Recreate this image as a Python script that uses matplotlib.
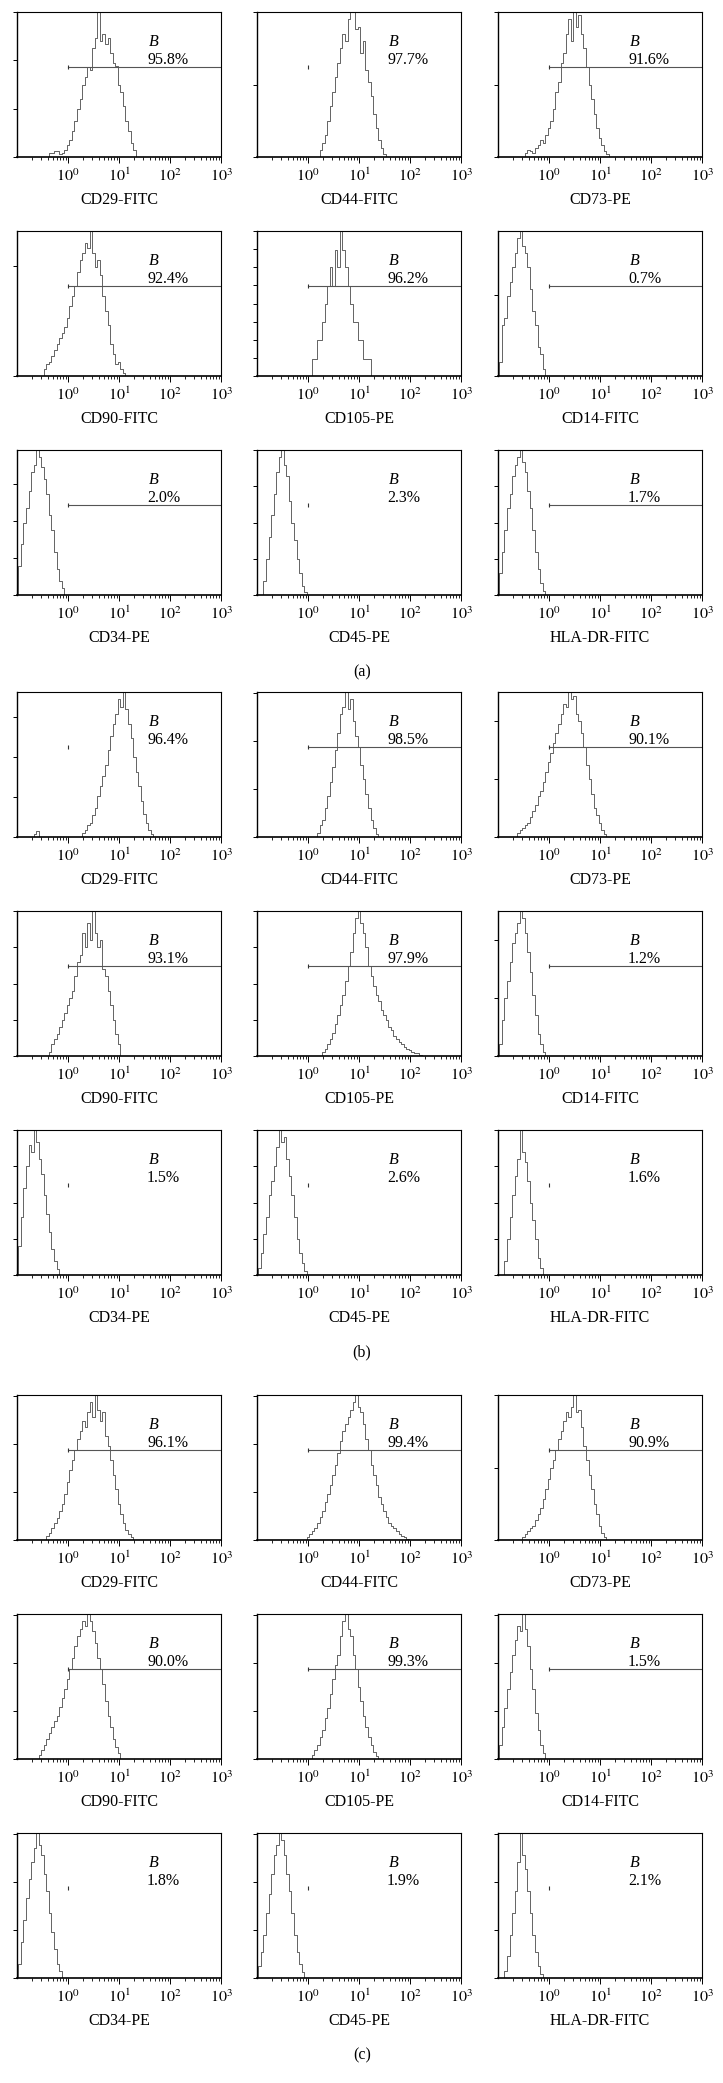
import numpy as np
import matplotlib
matplotlib.use('Agg')
import matplotlib.pyplot as plt
from matplotlib.ticker import LogLocator, NullFormatter, FixedLocator, FixedFormatter, MultipleLocator

plt.rcParams['font.family'] = ['Liberation Serif', 'DejaVu Serif']
plt.rcParams['mathtext.fontset'] = 'stix'

# marker names (same order in each group)
markers = ['CD29-FITC', 'CD44-FITC', 'CD73-PE',
           'CD90-FITC', 'CD105-PE', 'CD14-FITC',
           'CD34-PE', 'CD45-PE', 'HLA-DR-FITC']
group_labels = ['(a)', '(b)', '(c)']

# percentage in gate B
pct_a = ['95.8%', '97.7%', '91.6%', '92.4%', '96.2%', '0.7%', '2.0%', '2.3%', '1.7%']
pct_b = ['96.4%', '98.5%', '90.1%', '93.1%', '97.9%', '1.2%', '1.5%', '2.6%', '1.6%']
pct_c = ['96.1%', '99.4%', '90.9%', '90.0%', '99.3%', '1.5%', '1.8%', '1.9%', '2.1%']

# whether the gate line is drawn (otherwise only its start mark)
gate_a = [1, 0, 1, 1, 1, 1, 1, 0, 1]
gate_b = [0, 1, 1, 1, 1, 1, 0, 0, 0]
gate_c = [1, 1, 1, 1, 1, 1, 0, 0, 0]

# y tick spacing (counts, % of full scale)
ystep_a = [33.3, 50, 50, 76, 12.5, 56, 25.5, 25, 25]
ystep_b = [27.6, 33, 40, 25, 25, 40, 25, 25, 25]
ystep_c = [33, 33, 50, 33, 33, 33, 33, 33, 33]

# histogram: first channel (log10 of intensity) and counts per 0.05-decade channel
start_a = [-0.35, 0.25, -0.45, -0.45, 0.10, -0.95, -0.95, -0.85, -0.95]
hist_a = [
    [3, 3, 4, 4, 2, 3, 5, 8, 12, 18, 25, 33, 40, 50, 55, 62, 60, 75, 82, 100, 80, 85, 78, 82, 72,
     65, 63, 50, 45, 35, 25, 18, 10, 5, 0],
    [5, 10, 15, 25, 35, 45, 55, 65, 75, 85, 80, 95, 100, 100, 88, 90, 72, 80, 60, 52, 42, 30, 20,
     12, 6, 2, 0],
    [3, 5, 4, 3, 6, 8, 12, 10, 15, 20, 25, 33, 45, 52, 65, 72, 85, 95, 80, 100, 90, 98, 85, 75, 62,
     50, 40, 30, 20, 13, 8, 4, 2, 0],
    [5, 8, 10, 14, 18, 22, 26, 30, 34, 40, 48, 55, 62, 72, 80, 85, 92, 88, 100, 85, 75, 80, 70, 55,
     45, 35, 22, 15, 8, 10, 5, 2, 0],
    [12, 12, 25, 25, 37, 50, 62, 75, 62, 87, 75, 100, 87, 75, 62, 50, 37, 37, 25, 25, 12, 12, 12, 0],
    [10, 35, 40, 55, 65, 75, 85, 95, 100, 90, 85, 75, 60, 45, 35, 20, 15, 5, 0],
    [20, 35, 50, 60, 72, 85, 90, 100, 95, 88, 80, 70, 55, 45, 30, 18, 10, 5, 0],
    [10, 25, 40, 55, 70, 85, 95, 100, 90, 82, 65, 50, 38, 25, 15, 6, 2, 0],
    [15, 30, 45, 60, 70, 82, 90, 95, 100, 92, 85, 72, 60, 45, 30, 18, 8, 3, 0],
]

start_b = [-0.65, 0.20, -0.60, -0.35, 0.30, -0.95, -0.95, -0.95, -0.85]
hist_b = [
    [2, 4, 0, 0, 0, 0, 0, 0, 0, 0, 0, 0, 0, 0, 0, 0, 0, 0, 0, 3, 5, 8, 10, 15, 20, 28, 35, 42, 50,
     60, 70, 78, 85, 95, 90, 100, 88, 78, 68, 55, 45, 35, 25, 16, 10, 5, 2, 0],
    [3, 8, 12, 20, 28, 38, 48, 60, 72, 85, 90, 100, 88, 95, 80, 70, 62, 50, 40, 30, 20, 12, 6, 2, 0],
    [3, 5, 6, 8, 10, 14, 18, 22, 28, 32, 38, 45, 52, 58, 65, 72, 78, 85, 92, 90, 100, 95, 97, 85,
     80, 72, 62, 50, 40, 30, 20, 15, 10, 5, 2, 0],
    [3, 8, 12, 15, 20, 25, 30, 35, 40, 45, 55, 65, 70, 85, 75, 92, 80, 100, 85, 75, 80, 60, 55, 45,
     35, 25, 15, 8, 0],
    [3, 5, 8, 12, 16, 22, 28, 35, 42, 52, 62, 72, 85, 95, 100, 92, 85, 75, 62, 55, 48, 42, 38, 32,
     28, 25, 20, 18, 14, 12, 10, 8, 6, 5, 4, 3, 2, 2, 1, 0],
    [8, 25, 40, 52, 65, 78, 85, 92, 100, 95, 85, 72, 58, 42, 28, 15, 8, 3, 0],
    [20, 40, 60, 75, 90, 85, 100, 92, 80, 70, 55, 42, 30, 18, 10, 4, 0],
    [5, 15, 28, 40, 55, 65, 75, 88, 100, 92, 95, 80, 68, 55, 40, 25, 15, 8, 3, 0],
    [10, 25, 40, 55, 68, 80, 100, 85, 78, 65, 50, 38, 25, 12, 5, 0],
]

start_c = [-0.40, 0.00, -0.50, -0.55, 0.10, -0.95, -0.95, -0.95, -0.85]
hist_c = [
    [3, 5, 8, 12, 15, 20, 25, 32, 40, 48, 55, 62, 70, 75, 82, 78, 88, 95, 85, 100, 90, 82, 88, 72,
     65, 55, 45, 35, 25, 18, 12, 7, 4, 2, 0],
    [2, 4, 6, 8, 12, 16, 20, 26, 32, 38, 45, 52, 60, 68, 75, 80, 85, 90, 95, 100, 92, 88, 80, 70,
     62, 52, 45, 38, 30, 25, 20, 16, 12, 10, 8, 6, 4, 3, 2, 1, 0],
    [2, 4, 6, 8, 10, 14, 18, 22, 28, 35, 42, 50, 55, 62, 70, 75, 82, 88, 85, 92, 100, 88, 90, 78,
     65, 55, 45, 35, 25, 18, 10, 5, 2, 0],
    [3, 6, 10, 14, 18, 22, 26, 30, 36, 42, 48, 55, 62, 70, 78, 85, 90, 95, 92, 100, 95, 88, 80, 70,
     62, 52, 40, 30, 22, 14, 8, 4, 0],
    [3, 6, 10, 15, 20, 28, 35, 45, 55, 65, 72, 85, 95, 100, 90, 85, 72, 62, 50, 40, 30, 22, 15, 10,
     5, 2, 0],
    [10, 22, 35, 48, 60, 72, 82, 92, 88, 100, 90, 78, 62, 48, 32, 20, 10, 4, 0],
    [10, 25, 40, 55, 68, 80, 90, 100, 92, 85, 72, 60, 45, 32, 20, 10, 5, 0],
    [8, 18, 30, 45, 58, 72, 85, 92, 100, 95, 85, 72, 60, 45, 30, 18, 10, 4, 0],
    [5, 15, 30, 45, 60, 80, 100, 85, 75, 60, 45, 30, 18, 8, 3, 0],
]

BIN = 0.05
decades = [1, 10, 100, 1000]
decade_labels = ['$10^0$', '$10^1$', '$10^2$', '$10^3$']

W, H = 723, 2083
fig = plt.figure(figsize=(W / 100, H / 100), dpi=100)

col_left = [17, 257, 498]
group_top = [12, 692, 1395]
row_off = [0, 219, 438]
pw, ph = 204, 145
line_col = '#4a4a4a'


def draw_panel(ax, name, start, counts, pct, gate, ystep):
    counts = [0] + list(counts)
    logx = start - BIN + BIN * np.arange(len(counts))
    ax.step(10 ** logx, counts, where='mid', color=line_col, lw=0.6)
    ax.set_xscale('log')
    ax.set_xlim(0.1, 1000)
    ax.set_ylim(0, 100)
    ax.xaxis.set_major_locator(FixedLocator(decades))
    ax.xaxis.set_major_formatter(FixedFormatter(decade_labels))
    ax.xaxis.set_minor_locator(LogLocator(base=10, subs=np.arange(2, 10)))
    ax.xaxis.set_minor_formatter(NullFormatter())
    ax.yaxis.set_major_locator(MultipleLocator(ystep))
    ax.set_yticklabels([])
    ax.tick_params(axis='x', which='major', length=4, width=0.7, labelsize=11.5, pad=4)
    ax.tick_params(axis='x', which='minor', length=2.5, width=0.6)
    ax.tick_params(axis='y', which='major', length=3, width=0.7)
    for s in ax.spines.values():
        s.set_linewidth(0.8)
    ax.spines['bottom'].set_linewidth(1.2)
    ax.spines['left'].set_linewidth(1.0)
    gy = 62
    if gate:
        ax.plot([1, 1000], [gy, gy], color='#555555', lw=0.8)
    ax.plot([1], [gy], marker='|', ms=2.5, mew=0.8, color='#333333')
    ax.text(10 ** 1.58, 79, 'B', style='italic', fontsize=11.5, va='center', ha='left')
    ax.text(10 ** 1.55, 67, pct, fontsize=11.5, va='center', ha='left')
    ax.set_xlabel(name, fontsize=11.5, labelpad=5)


groups = [(pct_a, gate_a, ystep_a, start_a, hist_a),
          (pct_b, gate_b, ystep_b, start_b, hist_b),
          (pct_c, gate_c, ystep_c, start_c, hist_c)]

for g, (pcts, gates, ysteps, starts, hists) in enumerate(groups):
    for k in range(9):
        r, c = divmod(k, 3)
        top = group_top[g] + row_off[r]
        ax = fig.add_axes([col_left[c] / W, 1 - (top + ph) / H, pw / W, ph / H])
        draw_panel(ax, markers[k], starts[k], hists[k], pcts[k], gates[k], ysteps[k])
    fig.text(362 / W, 1 - (group_top[g] + 660) / H, group_labels[g],
             fontsize=11.5, ha='center', va='center')

fig.savefig('out.png', dpi=100)
